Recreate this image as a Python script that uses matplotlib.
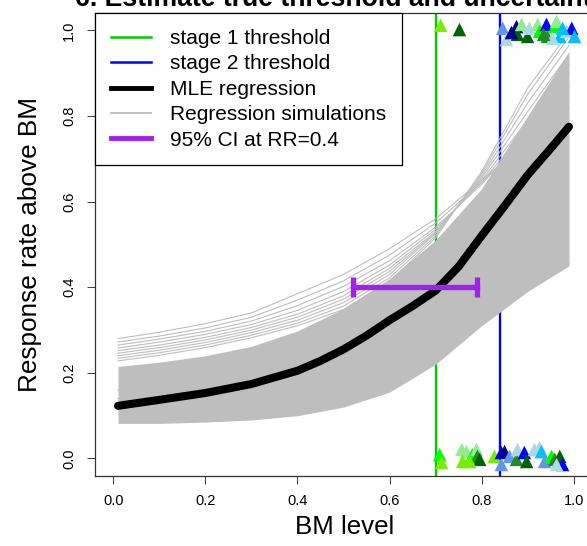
import matplotlib
matplotlib.use("Agg")
import matplotlib.pyplot as plt
from matplotlib.lines import Line2D

plt.rcParams['font.family'] = ['Liberation Sans', 'DejaVu Sans']

# thresholds and CI
stage1 = 0.70
stage2 = 0.84
ci_level = 0.4
ci_low, ci_high = 0.52, 0.79

# MLE regression curve
mle_x = [0.01, 0.1, 0.2, 0.3, 0.4, 0.45, 0.5, 0.55, 0.6, 0.65, 0.7, 0.75, 0.8, 0.85, 0.9, 0.95, 0.99]
mle_y = [0.123, 0.137, 0.153, 0.174, 0.205, 0.228, 0.255, 0.287, 0.323, 0.356, 0.392, 0.448,
         0.52, 0.59, 0.662, 0.724, 0.775]

# regression simulations: dense core band plus stray curves
sim_x = [0.01, 0.1, 0.2, 0.3, 0.4, 0.5, 0.6, 0.7, 0.8, 0.9, 0.99]
band_low = [0.082, 0.082, 0.085, 0.09, 0.10, 0.12, 0.155, 0.22, 0.31, 0.39, 0.45]
band_high = [0.215, 0.225, 0.24, 0.262, 0.298, 0.35, 0.42, 0.51, 0.63, 0.80, 0.95]
sim_lines = [
    [0.280, 0.295, 0.315, 0.340, 0.385, 0.430, 0.490, 0.560, 0.650, 0.740, 0.820],
    [0.272, 0.286, 0.305, 0.330, 0.370, 0.415, 0.475, 0.550, 0.645, 0.750, 0.840],
    [0.265, 0.279, 0.297, 0.321, 0.357, 0.402, 0.462, 0.540, 0.640, 0.760, 0.870],
    [0.258, 0.272, 0.290, 0.313, 0.346, 0.390, 0.452, 0.535, 0.645, 0.775, 0.900],
    [0.252, 0.265, 0.283, 0.306, 0.337, 0.380, 0.444, 0.530, 0.650, 0.790, 0.920],
    [0.246, 0.259, 0.277, 0.300, 0.330, 0.372, 0.437, 0.527, 0.655, 0.810, 0.945],
    [0.240, 0.253, 0.271, 0.294, 0.323, 0.364, 0.430, 0.525, 0.660, 0.830, 0.965],
    [0.234, 0.247, 0.265, 0.288, 0.316, 0.356, 0.422, 0.520, 0.665, 0.850, 0.985],
    [0.228, 0.241, 0.259, 0.282, 0.310, 0.348, 0.414, 0.515, 0.670, 0.865, 0.995],
    [0.160, 0.172, 0.188, 0.207, 0.230, 0.258, 0.290, 0.327, 0.370, 0.415, 0.455],
    [0.140, 0.152, 0.167, 0.186, 0.210, 0.240, 0.277, 0.322, 0.375, 0.430, 0.478],
]

# observed responders (top) and non-responders (bottom), jittered
top_x = [0.711, 0.752, 0.846, 0.854, 0.876, 0.878, 0.887, 0.900, 0.904, 0.922, 0.926, 0.941,
         0.943, 0.959, 0.963, 0.970, 0.985, 0.996, 0.976, 0.954, 0.865, 0.935, 1.002]
top_y = [1.012, 1.002, 1.005, 0.979, 1.009, 0.991, 1.014, 0.986, 1.005, 1.014, 0.998, 1.014,
         0.986, 1.009, 1.021, 0.986, 0.998, 1.005, 1.005, 0.981, 0.995, 0.991, 0.986]
top_col = ['#76EE00', '#006400', '#6495ED', '#ADD8E6', '#000080', '#006400', '#90EE90', '#006400',
           '#ADD8E6', '#90EE90', '#00FF00', '#0000FF', '#228B22', '#00FF00', '#90EE90', '#00BFFF',
           '#ADD8E6', '#0000FF', '#00BFFF', '#ADD8E6', '#00008B', '#228B22', '#00BFFF']

bot_x = [0.709, 0.713, 0.757, 0.767, 0.759, 0.780, 0.789, 0.791, 0.796, 0.774, 0.828, 0.843,
         0.843, 0.850, 0.861, 0.876, 0.878, 0.893, 0.898, 0.915, 0.926, 0.930, 0.937, 0.952,
         0.959, 0.970, 0.976, 0.963]
bot_y = [0.009, -0.009, 0.021, 0.016, -0.007, 0.009, 0.021, 0.005, -0.002, -0.007, 0.005, 0.014,
         -0.014, 0.016, 0.005, -0.002, 0.021, 0.014, -0.007, 0.021, 0.026, 0.016, -0.007, 0.005,
         -0.002, 0.005, -0.014, -0.014]
bot_col = ['#00FF00', '#76EE00', '#90EE90', '#90EE90', '#76EE00', '#00FF00', '#90EE90', '#228B22',
           '#006400', '#76EE00', '#76EE00', '#0000FF', '#6495ED', '#000080', '#6495ED', '#228B22',
           '#ADD8E6', '#0000FF', '#006400', '#ADD8E6', '#ADD8E6', '#00BFFF', '#6495ED', '#00FF00',
           '#228B22', '#006400', '#0000FF', '#ADD8E6']

x_ticks = [0.0, 0.2, 0.4, 0.6, 0.8, 1.0]
y_ticks = [0.0, 0.2, 0.4, 0.6, 0.8, 1.0]

W, H = 587, 546
fig = plt.figure(figsize=(W / 100, H / 100), dpi=100)
ax = fig.add_axes([95 / W, (H - 475.6) / H, (592 - 95) / W, (475.6 - 13.3) / H])
ax.set_xlim(-0.04, 1.04)
ax.set_ylim(-0.04, 1.04)

ax.axvline(stage1, color='#00CD00', lw=1.7, zorder=1)
ax.axvline(stage2, color='#0000FF', lw=1.7, zorder=1)

grey = '#BEBEBE'
ax.fill_between(sim_x, band_low, band_high, color=grey, lw=0, zorder=2)
for line in sim_lines:
    ax.plot(sim_x, line, color=grey, lw=0.8, zorder=2)

ax.plot(mle_x, mle_y, color='black', lw=5.8, solid_capstyle='round', zorder=3)

purple = '#A020F0'
ax.plot([ci_low, ci_high], [ci_level, ci_level], color=purple, lw=3.8, zorder=4)
ax.errorbar([ci_low, ci_high], [ci_level, ci_level], yerr=0.023, fmt='none',
            ecolor=purple, elinewidth=3.8, capsize=0, zorder=4)

ax.scatter(top_x, top_y, c=top_col, marker='^', s=95, linewidths=0, zorder=5, clip_on=False)
ax.scatter(bot_x, bot_y, c=bot_col, marker='^', s=95, linewidths=0, zorder=5, clip_on=False)

ax.set_xticks(x_ticks)
ax.set_yticks(y_ticks)
ax.set_xticklabels([f'{v:.1f}' for v in x_ticks])
ax.set_yticklabels([f'{v:.1f}' for v in y_ticks], rotation=90, va='center')
ax.tick_params(axis='both', direction='out', length=5.5, width=0.75, labelsize=10.5, color='#444444')
ax.tick_params(axis='x', pad=8)
ax.tick_params(axis='y', pad=8)
for sp in ax.spines.values():
    sp.set_linewidth(0.9)
    sp.set_color('#333333')

handles = [
    Line2D([], [], color='#00CD00', lw=1.8),
    Line2D([], [], color='#0000FF', lw=1.8),
    Line2D([], [], color='black', lw=3.5),
    Line2D([], [], color=grey, lw=1.3),
    Line2D([], [], color=purple, lw=3.5),
]
labels = ['stage 1 threshold', 'stage 2 threshold', 'MLE regression',
          'Regression simulations', '95% CI at RR=0.4']
leg = ax.legend(handles, labels, loc='upper left', bbox_to_anchor=(0, 1), borderaxespad=0,
                fontsize=15, handlelength=1.95, handletextpad=0.9, labelspacing=0.31,
                borderpad=0.75, fancybox=False, framealpha=1, edgecolor='black')
leg.get_frame().set_linewidth(0.9)
leg.set_zorder(6)

fig.text(75 / W, 1 - 6 / H, '6. Estimate true threshold and uncertainty', fontsize=19.2,
         fontweight='bold', ha='left', va='baseline')
fig.text(345 / W, 1 - 534 / H, 'BM level', fontsize=18.6, ha='center', va='baseline')
fig.text(30 / W, 1 - 244.5 / H, 'Response rate above BM', fontsize=18.8, rotation=90,
         ha='center', va='center')

fig.savefig('out.png', dpi=100)
